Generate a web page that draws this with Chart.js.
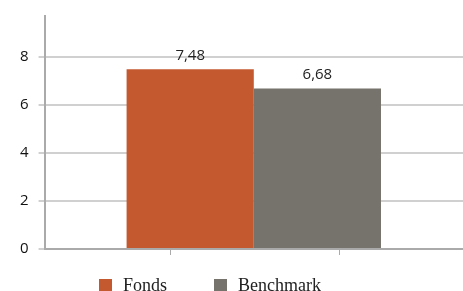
<!DOCTYPE html>
<html>
<head>
<meta charset="utf-8">
<script src="https://cdn.jsdelivr.net/npm/chart.js@4/dist/chart.umd.min.js"></script>
<style>
  html, body { margin: 0; padding: 0; background: #fff; }
  #wrap { position: relative; width: 463px; height: 291px; }
  #legend { position: absolute; left: 99px; top: 276px; height: 18px; white-space: nowrap;
            font-family: "Liberation Serif", serif; font-size: 18px; color: #222; line-height: 18px; }
  #legend span.item { display: inline-block; margin-right: 47px; }
  #legend span.box { display: inline-block; width: 13px; height: 13px; margin-right: 11px; vertical-align: -1px; }
</style>
</head>
<body>
<div id="wrap"><canvas id="myChart"></canvas><div id="legend"></div></div>
<script>
// 데이터
var categories = [''];
var fondsValues = [7.48];
var benchmarkValues = [6.68];
var yTicks = [0, 2, 4, 6, 8];

// 막대 위 값 표시
var valueLabels = {
	id : 'valueLabels',
	afterDatasetsDraw : function(chart) {
		var ctx = chart.ctx;
		ctx.save();
		ctx.font = '15px "Open Sans"';
		ctx.fillStyle = '#222';
		ctx.textAlign = 'center';
		ctx.textBaseline = 'bottom';
		chart.data.datasets.forEach(function(ds, i) {
			chart.getDatasetMeta(i).data.forEach(function(bar, j) {
				var text = ds.data[j].toFixed(2).replace('.', ',');
				ctx.fillText(text, bar.x, bar.y - 6);
			});
		});
		ctx.restore();
	}
};

// x축 눈금 표시
var xTickMarks = {
	id : 'xTickMarks',
	afterDraw : function(chart) {
		var area = chart.chartArea;
		var ctx = chart.ctx;
		ctx.save();
		ctx.strokeStyle = '#aaa';
		ctx.lineWidth = 1;
		[0.30, 0.703].forEach(function(f) {
			var x = Math.round(area.left + (area.right - area.left) * f) + 0.5;
			ctx.beginPath();
			ctx.moveTo(x, area.bottom);
			ctx.lineTo(x, area.bottom + 6);
			ctx.stroke();
		});
		ctx.restore();
	}
};

var data = {
	labels : categories,
	datasets : [ {
		label : 'Fonds',
		data : fondsValues,
		backgroundColor : '#c4582f'
	}, {
		label : 'Benchmark',
		data : benchmarkValues,
		backgroundColor : '#76726c'
	} ]
};

var options = {
	responsive : true,
	maintainAspectRatio : false,
	animation : false,
	layout : {
		padding : { left : 10, right : 0, top : 11, bottom : 34 }
	},
	datasets : {
		bar : {
			categoryPercentage : 0.608,
			barPercentage : 1
		}
	},
	scales : {
		x : {
			grid : { display : false },
			border : { color : '#aaa', width : 2 },
			ticks : { display : false }
		},
		y : {
			min : 0,
			max : 9.7,
			afterBuildTicks : function(scale) {
				scale.ticks = yTicks.map(function(v) { return { value : v }; });
			},
			border : { color : '#aaa', width : 2 },
			grid : { color : '#d0d0d0', lineWidth : 2, tickLength : 6 },
			ticks : {
				padding : 10,
				color : '#111',
				font : { family : 'Open Sans', size : 15, lineHeight : 0.8 }
			}
		}
	},
	plugins : {
		tooltip : { enabled : false },
		legend : { display : false }
	}
};

var myChart = new Chart(document.getElementById('myChart'), {
	type : 'bar',
	data : data,
	options : options,
	plugins : [ valueLabels, xTickMarks ]
});

// 범례
data.datasets.forEach(function(ds) {
	var legendItem = '<span class="item"><span class="box" style="background:' + ds.backgroundColor + '"></span>' + ds.label + '</span>';
	document.getElementById('legend').insertAdjacentHTML('beforeend', legendItem);
});
</script>
</body>
</html>
